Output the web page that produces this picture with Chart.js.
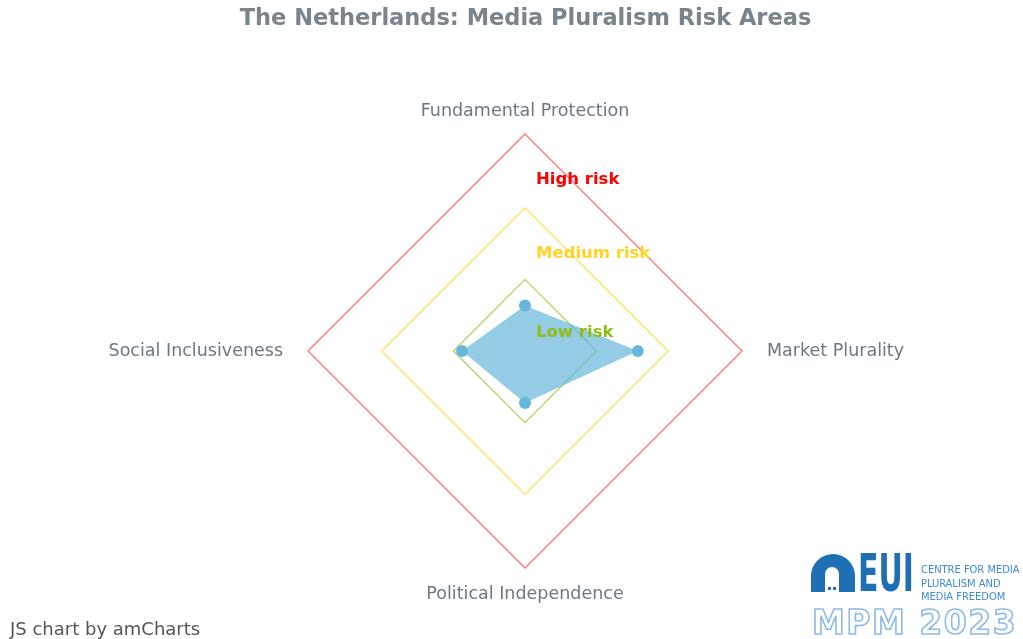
<!DOCTYPE html>
<html>
<head>
<meta charset="utf-8">
<script src="https://cdn.jsdelivr.net/npm/chart.js@4.4.1/dist/chart.umd.min.js"></script>
<style>
  html, body { margin: 0; padding: 0; background: #fff; }
  #wrap { position: relative; width: 1023px; height: 639px; overflow: hidden; font-family: "DejaVu Sans", Verdana, sans-serif; }
  #c { position: absolute; left: 0; top: 0; }
  #credit { position: absolute; left: 10px; top: 619px; font-size: 18px; line-height: 20px; color: #555; white-space: nowrap; }
  #logo { position: absolute; left: 0; top: 0; width: 1023px; height: 639px; pointer-events: none; }
  #logo .arch { position: absolute; left: 811px; top: 554px; width: 44px; height: 38px; background: #1f6fb5; border-radius: 22px 22px 0 0; }
  #logo .arch i { position: absolute; left: 14px; top: 13px; width: 14px; height: 25px; background: #fff; border-radius: 7px 7px 0 0; }
  #logo .arch b { position: absolute; top: 20px; width: 3px; height: 3px; background: #1f6fb5; }
  #logo .eui { position: absolute; left: 858px; top: 545px; font: bold 52px "DejaVu Sans Condensed", "DejaVu Sans", sans-serif; line-height: 56px; color: #1f6fb5; transform-origin: 0 0; transform: scaleX(0.64); white-space: nowrap; }
  #logo .ctr { position: absolute; left: 921px; top: 563px; font: 11px "Liberation Sans Narrow", "DejaVu Sans Condensed", sans-serif; color: #3d8bd0; line-height: 13.5px; white-space: nowrap; }
  #logo .mpm { position: absolute; left: 812px; top: 604px; font: bold 33px "DejaVu Sans", sans-serif; line-height: 38px; color: #fff; -webkit-text-stroke: 1.6px #8dbbe6; letter-spacing: 1.5px; white-space: nowrap; }
</style>
</head>
<body>
<div id="wrap">
  <canvas id="c" width="1023" height="639"></canvas>
  <div id="credit">JS chart by amCharts</div>
  <div id="logo">
    <div class="arch"><i><b style="left:3px"></b><b style="left:8px"></b></i></div>
    <div class="eui">EUI</div>
    <div class="ctr">CENTRE FOR MEDIA<br>PLURALISM AND<br>MEDIA FREEDOM</div>
    <div class="mpm">MPM 2023</div>
  </div>
</div>
<script>
const titleText = "The Netherlands: Media Pluralism Risk Areas";
const categories = ["Fundamental Protection", "Market Plurality", "Political Independence", "Social Inclusiveness"];
const riskValues = [21, 52, 24, 29];
const lowBand = [33, 33, 33, 33];
const mediumBand = [66, 66, 66, 66];
const highBand = [100, 100, 100, 100];
const bandLabels = ["High risk", "Medium risk", "Low risk"];
const bandLabelValues = [79, 45, 8.5];
const bandLabelColors = ["#ff0000", "#ffd426", "#8fbf14"];
const labelPadding = [12, 25, 16, 25];

const bandLabelPlugin = {
  id: "bandLabels",
  afterDatasetsDraw(chart) {
    const s = chart.scales.r;
    const ctx = chart.ctx;
    ctx.save();
    ctx.font = "bold 16.5px 'DejaVu Sans', Verdana, sans-serif";
    ctx.textAlign = "left";
    ctx.textBaseline = "middle";
    bandLabels.forEach((t, i) => {
      const d = s.getDistanceFromCenterForValue(bandLabelValues[i]);
      ctx.fillStyle = bandLabelColors[i];
      ctx.fillText(t, s.xCenter + 11, s.yCenter - d);
    });
    ctx.restore();
  }
};

new Chart(document.getElementById("c"), {
  type: "radar",
  data: {
    labels: categories,
    datasets: [
      { label: "Risk", data: riskValues, backgroundColor: "rgba(103,183,220,0.7)", borderColor: "rgba(103,183,220,0.7)", borderWidth: 0,
        pointBackgroundColor: "#67b7dc", pointBorderColor: "#67b7dc", pointRadius: 6, pointHoverRadius: 6, fill: true, order: 0 },
      { label: "Low", data: lowBand, borderColor: "rgba(140,191,26,0.7)", borderWidth: 1.3, pointRadius: 0, fill: false, order: 1 },
      { label: "Medium", data: mediumBand, borderColor: "rgba(255,214,51,0.75)", borderWidth: 1.3, pointRadius: 0, fill: false, order: 2 },
      { label: "High", data: highBand, borderColor: "rgba(255,70,70,0.75)", borderWidth: 1.3, pointRadius: 0, fill: false, order: 3 }
    ]
  },
  options: {
    responsive: false,
    animation: false,
    layout: { padding: { top: 0, bottom: 32, left: 28, right: 0 } },
    plugins: {
      legend: { display: false },
      tooltip: { enabled: false },
      title: { display: true, text: titleText, color: "#7a848c",
        font: { family: "'DejaVu Sans', Verdana, sans-serif", size: 22.5, weight: "bold" },
        padding: { top: 6, bottom: 66 } }
    },
    scales: {
      r: {
        min: 0, max: 100,
        ticks: { display: false, stepSize: 100 },
        grid: { display: false },
        angleLines: { display: false },
        pointLabels: { color: "#6e7881", padding: (ctx) => labelPadding[ctx.index],
          font: { family: "'DejaVu Sans', Verdana, sans-serif", size: 17.5 } }
      }
    }
  },
  plugins: [bandLabelPlugin]
});
</script>
</body>
</html>
